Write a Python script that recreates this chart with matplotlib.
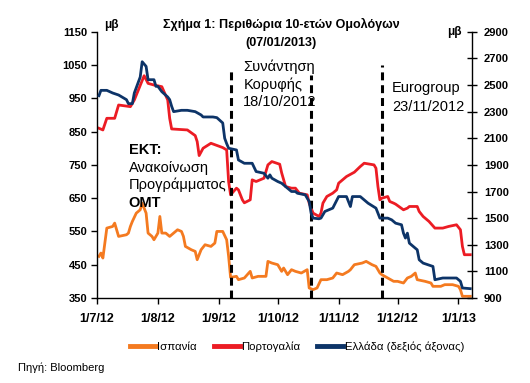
import matplotlib
matplotlib.use("Agg")
import matplotlib.pyplot as plt
import pandas as pd

plt.rcParams['font.family'] = ['Liberation Sans', 'DejaVu Sans']

# ---------------- data ----------------
pt_dates = ["2012-07-02","2012-07-04","2012-07-06","2012-07-10","2012-07-12","2012-07-18","2012-07-20",
            "2012-07-25","2012-07-27","2012-07-30","2012-08-03","2012-08-06","2012-08-07","2012-08-08",
            "2012-08-16","2012-08-20","2012-08-21","2012-08-22","2012-08-24","2012-08-28","2012-09-03",
            "2012-09-05","2012-09-06","2012-09-07","2012-09-10","2012-09-11","2012-09-13","2012-09-14",
            "2012-09-17","2012-09-18","2012-09-20","2012-09-24","2012-09-26","2012-09-28","2012-10-02",
            "2012-10-03","2012-10-05","2012-10-08","2012-10-10","2012-10-12","2012-10-16","2012-10-17",
            "2012-10-19","2012-10-22","2012-10-23","2012-10-24","2012-10-26","2012-10-29","2012-10-31",
            "2012-11-01","2012-11-05","2012-11-09","2012-11-12","2012-11-14","2012-11-19","2012-11-20",
            "2012-11-21","2012-11-22","2012-11-23","2012-11-26","2012-11-27","2012-11-29","2012-11-30",
            "2012-12-04","2012-12-06","2012-12-07","2012-12-11","2012-12-12","2012-12-14","2012-12-17",
            "2012-12-20","2012-12-24","2012-12-27","2012-12-31","2013-01-02","2013-01-03","2013-01-04",
            "2013-01-07"]
pt_vals = [860,855,890,890,930,925,945,
           1018,995,990,985,945,890,858,
           855,838,820,778,800,815,802,
           795,700,660,680,675,645,636,
           645,705,700,710,750,760,752,
           726,685,680,680,665,660,635,
           605,595,605,635,655,665,675,
           695,715,728,745,755,750,740,
           685,645,650,655,640,635,632,
           615,620,625,625,610,595,580,
           560,560,565,570,555,505,480,
           480]

gr_dates = ["2012-07-02","2012-07-03","2012-07-06","2012-07-09","2012-07-11","2012-07-12","2012-07-16",
            "2012-07-17","2012-07-19","2012-07-20","2012-07-23","2012-07-24","2012-07-26","2012-07-27",
            "2012-07-30","2012-07-31","2012-08-01","2012-08-03","2012-08-06","2012-08-07","2012-08-08",
            "2012-08-09","2012-08-13","2012-08-16","2012-08-20","2012-08-23","2012-08-24","2012-08-29",
            "2012-08-31","2012-09-03","2012-09-04","2012-09-05","2012-09-06","2012-09-10","2012-09-11",
            "2012-09-14","2012-09-18","2012-09-20","2012-09-24","2012-09-26","2012-09-27","2012-09-28",
            "2012-10-01","2012-10-03","2012-10-05","2012-10-08","2012-10-10","2012-10-11","2012-10-15",
            "2012-10-17","2012-10-18","2012-10-19","2012-10-22","2012-10-23","2012-10-25","2012-10-29",
            "2012-11-01","2012-11-05","2012-11-07","2012-11-08","2012-11-12","2012-11-16","2012-11-20",
            "2012-11-22","2012-11-26","2012-11-28","2012-11-30","2012-12-03","2012-12-04","2012-12-05",
            "2012-12-06","2012-12-07","2012-12-11","2012-12-12","2012-12-14","2012-12-19","2012-12-20",
            "2012-12-24","2012-12-31","2013-01-02","2013-01-03","2013-01-07"]
gr_vals = [2420,2460,2460,2440,2430,2425,2390,
           2360,2360,2440,2560,2675,2640,2540,
           2540,2490,2490,2450,2410,2390,2340,
           2300,2310,2310,2300,2275,2260,2260,
           2255,2215,2100,2060,2025,2012,1937,
           1912,1912,1850,1837,1800,1825,1800,
           1775,1762,1737,1700,1700,1687,1675,
           1625,1537,1500,1495,1500,1550,1575,
           1662,1662,1587,1662,1662,1612,1575,
           1500,1500,1487,1462,1450,1387,1350,
           1387,1312,1262,1187,1162,1137,1037,
           1050,1050,1025,975,970]

es_dates = ["2012-07-02","2012-07-03","2012-07-04","2012-07-05","2012-07-06","2012-07-09","2012-07-10",
            "2012-07-12","2012-07-16","2012-07-17","2012-07-18","2012-07-19","2012-07-21","2012-07-23",
            "2012-07-24","2012-07-26","2012-07-27","2012-07-29","2012-07-30","2012-08-01","2012-08-02",
            "2012-08-03","2012-08-05","2012-08-07","2012-08-09","2012-08-11","2012-08-13","2012-08-14",
            "2012-08-15","2012-08-18","2012-08-20","2012-08-21","2012-08-23","2012-08-25","2012-08-28",
            "2012-08-30","2012-08-31","2012-09-03","2012-09-05","2012-09-06","2012-09-07","2012-09-10",
            "2012-09-11","2012-09-14","2012-09-17","2012-09-18","2012-09-21","2012-09-25","2012-09-26",
            "2012-09-28","2012-10-01","2012-10-03","2012-10-04","2012-10-06","2012-10-08","2012-10-10",
            "2012-10-13","2012-10-16","2012-10-17","2012-10-19","2012-10-21","2012-10-23","2012-10-26",
            "2012-10-29","2012-10-31","2012-11-03","2012-11-06","2012-11-07","2012-11-09","2012-11-13",
            "2012-11-15","2012-11-18","2012-11-20","2012-11-22","2012-11-23","2012-11-26","2012-11-29",
            "2012-12-01","2012-12-04","2012-12-06","2012-12-08","2012-12-10","2012-12-11","2012-12-15",
            "2012-12-18","2012-12-19","2012-12-23","2012-12-25","2012-12-29","2013-01-01","2013-01-02",
            "2013-01-03","2013-01-07"]
es_vals = [475,485,470,515,560,565,575,
           535,540,545,565,580,605,615,
           635,605,545,535,525,545,595,
           545,545,535,545,555,550,535,
           505,495,490,465,495,510,505,
           515,550,550,525,475,412,415,
           405,410,430,410,415,415,460,
           455,450,430,440,420,435,430,
           425,435,380,375,380,405,405,
           410,425,420,430,435,450,455,
           460,450,445,425,420,410,400,
           400,395,410,415,425,405,400,
           395,385,385,390,390,385,375,
           355,355]

event_dates = ["2012-09-07", "2012-10-18", "2012-11-23"]
event_tops = [0.867, 0.837, 0.875]

series_names = ["Ισπανία", "Πορτογαλία", "Ελλάδα (δεξιός άξονας)"]
colors = ["#F47A20", "#EC1C24", "#0D3468"]

left_ticks = [350, 450, 550, 650, 750, 850, 950, 1050, 1150]
right_ticks = [900, 1100, 1300, 1500, 1700, 1900, 2100, 2300, 2500, 2700, 2900]
x_tick_dates = ["2012-07-01","2012-08-01","2012-09-01","2012-10-01","2012-11-01","2012-12-01","2013-01-01"]
x_tick_labels = ["1/7/12","1/8/12","1/9/12","1/10/12","1/11/12","1/12/12","1/1/13"]

# ---------------- figure ----------------
fig = plt.figure(figsize=(5.30, 3.83), dpi=100)
ax = fig.add_axes([0.183, 0.222, 0.708, 0.695])
ax2 = ax.twinx()

lw = 2.0
l_es, = ax.plot(pd.to_datetime(es_dates), es_vals, color=colors[0], lw=lw, label=series_names[0])
l_pt, = ax.plot(pd.to_datetime(pt_dates), pt_vals, color=colors[1], lw=lw, label=series_names[1])
l_gr, = ax2.plot(pd.to_datetime(gr_dates), gr_vals, color=colors[2], lw=lw, label=series_names[2])

for d, top in zip(event_dates, event_tops):
    ax.axvline(pd.Timestamp(d), ymin=0, ymax=top, color="black", lw=2.2,
               linestyle=(0, (2.6, 1.6)), zorder=5)

ax.set_xlim(pd.Timestamp("2012-07-01"), pd.Timestamp("2013-01-08"))
ax.set_ylim(350, 1150)
ax2.set_ylim(900, 2900)
ax.set_yticks(left_ticks)
ax2.set_yticks(right_ticks)
ax.set_xticks(pd.to_datetime(x_tick_dates))
ax.set_xticklabels(x_tick_labels)

for a in (ax, ax2):
    a.spines['top'].set_visible(False)
    for s in a.spines.values():
        s.set_linewidth(1.0)
        s.set_color("black")
ax.spines['right'].set_visible(False)
ax2.spines['left'].set_visible(False)
ax2.spines['bottom'].set_visible(False)

ax.tick_params(axis='y', direction='out', length=4, width=1, labelsize=8, pad=3)
ax.tick_params(axis='x', direction='out', length=4, width=1, labelsize=9, pad=7)
ax2.tick_params(axis='y', direction='inout', length=7, width=1, labelsize=8, pad=5)
for lab in ax.get_yticklabels() + ax.get_xticklabels() + ax2.get_yticklabels():
    lab.set_fontweight('bold')

# titles / unit labels
fig.text(0.530, 0.935, "Σχήμα 1: Περιθώρια 10-ετών Ομολόγων", ha='center', va='center',
         fontsize=9, fontweight='bold')
fig.text(0.530, 0.888, "(07/01/2013)", ha='center', va='center', fontsize=9, fontweight='bold')
fig.text(0.211, 0.935, "μβ", ha='center', va='center', fontsize=8.5, fontweight='bold')
fig.text(0.857, 0.916, "μβ", ha='center', va='center', fontsize=8.5, fontweight='bold')

# annotations
fs = 10.5
fig.text(0.243, 0.608, "ΕΚΤ:", ha='left', va='center', fontsize=fs, fontweight='bold')
fig.text(0.243, 0.562, "Ανακοίνωση", ha='left', va='center', fontsize=fs)
fig.text(0.243, 0.517, "Προγράμματος", ha='left', va='center', fontsize=fs)
fig.text(0.243, 0.471, "ΟΜΤ", ha='left', va='center', fontsize=fs, fontweight='bold')

fig.text(0.459, 0.825, "Συνάντηση", ha='left', va='center', fontsize=fs)
fig.text(0.459, 0.779, "Κορυφής", ha='left', va='center', fontsize=fs)
fig.text(0.459, 0.734, "18/10/2012", ha='left', va='center', fontsize=fs)

fig.text(0.740, 0.770, "Eurogroup", ha='left', va='center', fontsize=fs)
fig.text(0.740, 0.721, "23/11/2012", ha='left', va='center', fontsize=fs)

leg = fig.legend(handles=[l_es, l_pt, l_gr], loc='center', bbox_to_anchor=(0.560, 0.094),
                 ncol=3, frameon=False, fontsize=8.2, handlelength=2.3, handletextpad=0.1,
                 columnspacing=1.5)
for h in leg.get_lines():
    h.set_linewidth(3.5)

fig.text(0.034, 0.039, "Πηγή: Bloomberg", ha='left', va='center', fontsize=8)

fig.savefig("out.png", dpi=100)
